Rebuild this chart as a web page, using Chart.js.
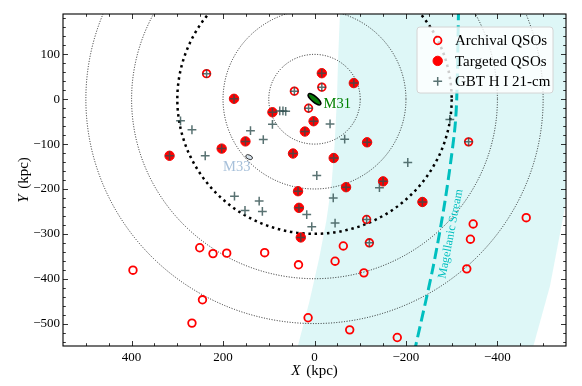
<!DOCTYPE html>
<html>
<head>
<meta charset="utf-8">
<script src="https://cdn.jsdelivr.net/npm/chart.js@4.4.1/dist/chart.umd.min.js"></script>
<style>
  html, body { margin: 0; padding: 0; background: #fff; }
  #wrap { width: 582px; height: 386px; }
</style>
</head>
<body>
<div id="wrap"><canvas id="chart" width="582" height="386"></canvas></div>
<script>
const SERIF = '"Liberation Serif", "DejaVu Serif", serif';

// Archival QSOs (open circles), kpc
const archivalX = [236, -16, 44, 13, -114, -120, -337, 251, 222, 192, 397, 245, 268, 109, 35, -63, -45, -108, 14, -77, -181, -347, -341, -463, -333];
const archivalY = [57, 27, 18, -20, -268, -320, -95, -331, -344, -343, -381, -447, -499, -342, -369, -327, -361, -387, -487, -514, -531, -278, -312, -264, -378];

// Targeted QSOs (filled circles)
const targetedX = [176, 151, 203, 317, -16, -86, 92, 2, 21, 47, -115, -42, -150, 36, -69, 34, 30, -236];
const targetedY = [1, -94, -110, -126, 58, 36, -29, -49, -72, -121, -96, -131, -183, -205, -196, -242, -308, -229];

// GBT HI 21-cm pointings (plus markers)
const gbtX = [293, 268, 239, 76, 69, 63, 92, -34, 140, 112, -66, -204, -5, -142, 175, 121, 152, 114, -41, 17, 6, -45, -296,
              236, -16, 44, 13, -114, -120, -337,
              176, 151, 203, 317, -16, -86, 92, 2, 21, 47, -115, -42, -150, 36, -69, 34, 30, -236];
const gbtY = [-48, -68, -126, -26, -26, -27, -56, -55, -70, -90, -89, -141, -170, -197, -216, -227, -248, -250, -220, -257, -284, -276, -45,
              57, 27, 18, -20, -268, -320, -95,
              1, -94, -110, -126, 58, 36, -29, -49, -72, -121, -96, -131, -183, -205, -196, -242, -308, -229];

// Magellanic Stream track and the shaded band around it
const streamX = [-315, -311, -306, -286, -260, -219];
const streamY = [200, 0, -74, -223, -371, -560];
const bandLeftX = [-58, -55.6, -52, -49, -44, -37.4, -26, -10.3, 11, 35.7, 50];
const bandLeftY = [250, 190, 100, 0, -100, -188, -270, -354, -450, -547, -600];
const bandRightX = [-465, -479, -515, -548, -575, -595, -605];
const bandRightY = [-600, -549, -416, -240, -100, 100, 250];

// projected distance rings around M31
const circleRadii = [100, 200, 300, 400, 500];

const xTickValues = [-400, -200, 0, 200, 400];
const yTickValues = [-500, -400, -300, -200, -100, 0, 100];

const m31 = { x: 0, y: 0 };
const m33 = { x: 143, y: -129 };
const streamLabel = { x: -298, y: -300 };

const RED = '#ff0000';
const GBT = 'rgba(47,79,79,0.8)';
const CYAN = '#00bfbf';

const pts = (xs, ys) => xs.map((x, i) => ({ x, y: ys[i] }));
const fmt = v => (v < 0 ? '\u2212' + (-v) : String(v));

const bandPts = pts(bandLeftX, bandLeftY).concat(pts(bandRightX, bandRightY));
const BAND_INDEX = 3;

// dotted rings, drawn right after the shaded band
const rings = {
  id: 'rings',
  afterDatasetDraw(chart, args) {
    if (args.index !== BAND_INDEX) return;
    const { ctx, chartArea: a, scales: { x, y } } = chart;
    const cx = x.getPixelForValue(m31.x), cy = y.getPixelForValue(m31.y);
    ctx.save();
    ctx.beginPath(); ctx.rect(a.left, a.top, a.width, a.height); ctx.clip();
    circleRadii.forEach(r => {
      const rx = Math.abs(x.getPixelForValue(m31.x + r) - cx);
      const ry = Math.abs(y.getPixelForValue(m31.y + r) - cy);
      const thick = r === 300;
      ctx.lineWidth = thick ? 2.5 : 0.9;
      ctx.setLineDash(thick ? [2.5, 3.7] : [1, 1.6]);
      ctx.strokeStyle = thick ? '#000' : '#111';
      ctx.beginPath(); ctx.ellipse(cx, cy, rx, ry, 0, 0, Math.PI * 2); ctx.stroke();
    });
    ctx.restore();
  }
};

// galaxies and text annotations
const annotations = {
  id: 'annotations',
  afterDatasetsDraw(chart) {
    const { ctx, scales: { x, y } } = chart;
    ctx.save();
    ctx.setLineDash([]);

    // M31
    let px = x.getPixelForValue(m31.x), py = y.getPixelForValue(m31.y);
    ctx.beginPath(); ctx.ellipse(px, py, 8, 2.8, 40 * Math.PI / 180, 0, Math.PI * 2);
    ctx.fillStyle = '#0a7d0a'; ctx.fill();
    ctx.lineWidth = 1.4; ctx.strokeStyle = '#000'; ctx.stroke();
    ctx.font = `14.5px ${SERIF}`;
    ctx.fillStyle = '#008000';
    ctx.textBaseline = 'alphabetic'; ctx.textAlign = 'left';
    ctx.fillText('M31', px + 9, py + 8.7);

    // M33
    px = x.getPixelForValue(m33.x); py = y.getPixelForValue(m33.y);
    ctx.beginPath(); ctx.ellipse(px, py, 3.6, 2.1, 25 * Math.PI / 180, 0, Math.PI * 2);
    ctx.fillStyle = '#d8e4ee'; ctx.fill();
    ctx.lineWidth = 1; ctx.strokeStyle = '#333'; ctx.stroke();
    ctx.fillStyle = '#a7c0da';
    ctx.fillText('M33', px - 26, py + 14);

    // Magellanic Stream label along the track
    px = x.getPixelForValue(streamLabel.x); py = y.getPixelForValue(streamLabel.y);
    ctx.translate(px, py);
    ctx.rotate(-79 * Math.PI / 180);
    ctx.font = `12px ${SERIF}`;
    ctx.fillStyle = CYAN;
    ctx.textAlign = 'center'; ctx.textBaseline = 'middle';
    ctx.fillText('Magellanic Stream', 0, 0);
    ctx.restore();
  }
};

// box, inward ticks on all four sides, axis titles, legend
const frame = {
  id: 'frame',
  afterDraw(chart) {
    const { ctx, chartArea: a, scales: { x, y } } = chart;
    ctx.save();
    ctx.setLineDash([]);
    ctx.strokeStyle = '#000';
    ctx.lineWidth = 0.8;
    ctx.beginPath();
    for (let v = -500; v <= 500; v += 50) {
      const p = Math.round(x.getPixelForValue(v)) + 0.5;
      const len = v % 200 === 0 ? 5 : 2.8;
      ctx.moveTo(p, a.bottom); ctx.lineTo(p, a.bottom - len);
      ctx.moveTo(p, a.top); ctx.lineTo(p, a.top + len);
    }
    for (let v = -540; v <= 180; v += 20) {
      const p = Math.round(y.getPixelForValue(v)) + 0.5;
      const len = v % 100 === 0 ? 5 : 2.8;
      ctx.moveTo(a.left, p); ctx.lineTo(a.left + len, p);
      ctx.moveTo(a.right, p); ctx.lineTo(a.right - len, p);
    }
    ctx.stroke();
    ctx.lineWidth = 1.1;
    ctx.strokeRect(a.left, a.top, a.width, a.height);

    // axis titles: italic symbol + unit
    ctx.fillStyle = '#000';
    ctx.textBaseline = 'middle';
    ctx.textAlign = 'left';
    const title = (sym, cx, cy, rot) => {
      ctx.save();
      ctx.translate(cx, cy);
      ctx.rotate(rot);
      ctx.font = `italic 15px ${SERIF}`;
      const w1 = ctx.measureText(sym).width;
      ctx.font = `15px ${SERIF}`;
      const unit = ' (kpc)';
      const w2 = ctx.measureText(unit).width;
      const start = -(w1 + 2 + w2) / 2;
      ctx.font = `italic 15px ${SERIF}`;
      ctx.fillText(sym, start, 0);
      ctx.font = `15px ${SERIF}`;
      ctx.fillText(unit, start + w1 + 2, 0);
      ctx.restore();
    };
    title('X', (a.left + a.right) / 2, 371, 0);
    title('Y', 24, (a.top + a.bottom) / 2, -Math.PI / 2);

    // legend
    const w = 136, h = 66, l = a.right - 13 - w, t = a.top + 13;
    ctx.beginPath();
    ctx.roundRect(l, t, w, h, 3);
    ctx.fillStyle = 'rgba(255,255,255,0.8)'; ctx.fill();
    ctx.strokeStyle = '#d4d4d4'; ctx.lineWidth = 1; ctx.stroke();
    const items = chart.data.datasets.filter(d => d.inLegend);
    items.forEach((d, i) => {
      const my = t + 13.5 + i * 20.4, mx = l + 20.7;
      ctx.fillStyle = d.backgroundColor;
      ctx.strokeStyle = d.borderColor;
      ctx.lineWidth = d.borderWidth;
      Chart.helpers.drawPoint(ctx, { pointStyle: d.pointStyle, radius: d.pointRadius, rotation: 0, borderWidth: d.borderWidth }, mx, my);
      ctx.fillStyle = '#000';
      ctx.font = `15px ${SERIF}`;
      ctx.textBaseline = 'middle';
      ctx.fillText(d.label, l + 38, my + 1);
    });
    ctx.restore();
  }
};

new Chart(document.getElementById('chart'), {
  type: 'scatter',
  data: {
    datasets: [
      {
        label: 'Archival QSOs', inLegend: true, order: 2,
        data: pts(archivalX, archivalY),
        pointStyle: 'circle', pointRadius: 3.8, borderWidth: 1.8,
        borderColor: RED, backgroundColor: 'rgba(255,255,255,0)'
      },
      {
        label: 'Targeted QSOs', inLegend: true, order: 1,
        data: pts(targetedX, targetedY),
        pointStyle: 'circle', pointRadius: 4.7, borderWidth: 1,
        borderColor: RED, backgroundColor: RED
      },
      {
        label: 'GBT H I 21-cm', inLegend: true, order: 0,
        data: pts(gbtX, gbtY),
        pointStyle: 'cross', pointRadius: 4.4, borderWidth: 1.5,
        borderColor: GBT, backgroundColor: GBT
      },
      {
        label: 'band', type: 'line', order: 10,
        data: bandPts, fill: 'shape', tension: 0,
        backgroundColor: 'rgba(0,191,191,0.13)', borderWidth: 0, pointRadius: 0
      },
      {
        label: 'Magellanic Stream', type: 'line', order: 5,
        data: pts(streamX, streamY), fill: false, tension: 0.3,
        borderColor: CYAN, borderWidth: 3, borderDash: [11, 5], pointRadius: 0
      }
    ]
  },
  options: {
    responsive: false,
    animation: false,
    devicePixelRatio: 1,
    layout: { padding: { top: 14, right: 16, bottom: 0, left: 0 } },
    plugins: { legend: { display: false }, tooltip: { enabled: false } },
    scales: {
      x: {
        type: 'linear', min: -550, max: 550, reverse: true,
        grid: { display: false, drawTicks: false }, border: { display: false },
        ticks: { padding: 4, autoSkip: false, maxRotation: 0, color: '#000', font: { family: SERIF, size: 13 }, callback: fmt },
        afterBuildTicks: s => { s.ticks = xTickValues.map(v => ({ value: v })); },
        afterFit: s => { s.height = 40; }
      },
      y: {
        type: 'linear', min: -550, max: 190,
        grid: { display: false, drawTicks: false }, border: { display: false },
        ticks: { padding: 3, autoSkip: false, color: '#000', font: { family: SERIF, size: 13 }, callback: fmt },
        afterBuildTicks: s => { s.ticks = yTickValues.map(v => ({ value: v })); },
        afterFit: s => { s.width = 63; }
      }
    }
  },
  plugins: [rings, annotations, frame]
});
</script>
</body>
</html>
